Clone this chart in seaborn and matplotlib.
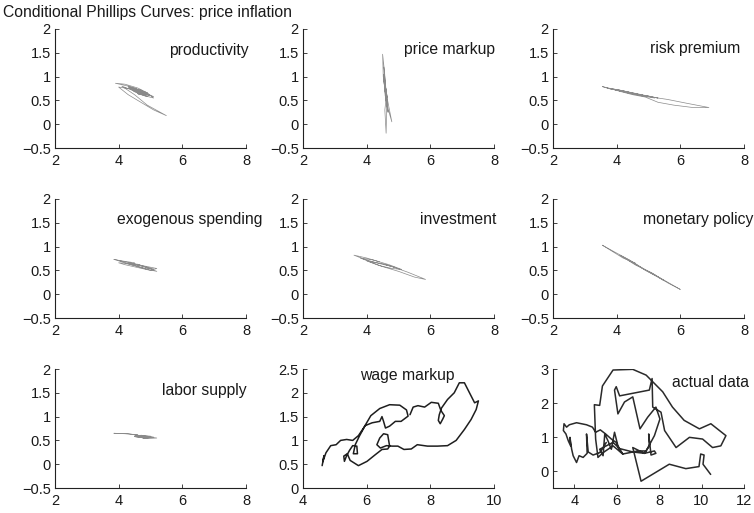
import numpy as np
import pandas as pd
import seaborn as sns
import matplotlib
matplotlib.use("Agg")
import matplotlib.pyplot as plt

sns.set_theme(style="ticks")
plt.rcParams["font.family"] = ["Liberation Sans", "DejaVu Sans"]

title = "Conditional Phillips Curves: price inflation"

# unemployment (x) vs inflation (y)
productivity_x = [4.6, 4.3, 3.9, 4.2, 4.6, 4.9, 5.1, 4.8, 4.4, 4.1, 4.5, 4.9, 5.5, 5.1, 4.7, 4.3,
                  4.0, 4.4, 4.8, 5.0, 4.7, 4.5, 4.6, 4.9, 4.6, 4.3, 4.5, 4.8, 4.7, 4.5, 4.65, 4.9,
                  4.4, 4.8, 5.1, 4.7, 4.3, 4.6, 5.0, 4.5]
productivity_y = [0.72, 0.80, 0.86, 0.84, 0.76, 0.66, 0.55, 0.60, 0.72, 0.80, 0.62, 0.40, 0.18, 0.30,
                  0.46, 0.62, 0.78, 0.74, 0.62, 0.60, 0.68, 0.74, 0.64, 0.58, 0.70, 0.78, 0.68, 0.64,
                  0.72, 0.70, 0.62, 0.66, 0.78, 0.66, 0.58, 0.66, 0.80, 0.72, 0.60, 0.76]

markup_x = [4.58, 4.52, 4.50, 4.56, 4.62, 4.66, 4.60, 4.55, 4.53, 4.60, 4.70, 4.79, 4.68, 4.58,
            4.54, 4.58, 4.63, 4.61, 4.57, 4.62, 4.60, 4.65, 4.56, 4.59, 4.62, 4.58,
            4.55, 4.66, 4.57, 4.64, 4.54, 4.61, 4.67, 4.56, 4.63, 4.58]
markup_y = [0.70, 1.00, 1.47, 1.10, 0.60, 0.30, 0.55, 0.85, 1.05, 0.70, 0.35, 0.05, 0.30, 0.60,
            0.95, 0.80, 0.40, -0.19, 0.30, 0.60, 0.75, 0.55, 0.90, 0.65, 0.45, 0.70,
            1.00, 0.35, 0.85, 0.45, 1.20, 0.50, 0.25, 0.95, 0.40, 0.75]

risk_x = [4.4, 4.0, 3.55, 3.8, 4.3, 4.8, 5.2, 4.9, 4.4, 3.9, 3.7, 4.1, 4.6, 5.1, 5.6, 6.2, 6.9,
          6.4, 5.8, 5.3, 4.9, 4.5, 4.1, 3.8, 4.2, 4.7, 5.1, 4.8, 4.4,
          4.0, 4.5, 5.0, 5.3, 4.8, 4.2, 3.9]
risk_y = [0.66, 0.72, 0.79, 0.74, 0.68, 0.61, 0.55, 0.58, 0.65, 0.73, 0.76, 0.70, 0.64, 0.57,
          0.52, 0.44, 0.35, 0.35, 0.40, 0.46, 0.57, 0.62, 0.69, 0.75, 0.70, 0.62, 0.58, 0.60, 0.65,
          0.73, 0.66, 0.59, 0.55, 0.61, 0.70, 0.74]

exo_x = [4.5, 4.1, 3.85, 4.2, 4.6, 4.9, 5.2, 5.0, 4.6, 4.2, 4.0, 4.4, 4.8, 5.2, 4.9, 4.5, 4.2,
         4.6, 4.9, 4.7, 4.4, 4.3, 4.7, 5.1, 4.8, 4.4, 4.0]
exo_y = [0.66, 0.70, 0.73, 0.68, 0.62, 0.58, 0.54, 0.50, 0.56, 0.62, 0.66, 0.64, 0.58, 0.48,
         0.52, 0.60, 0.65, 0.63, 0.56, 0.60, 0.64, 0.67, 0.60, 0.53, 0.55, 0.62, 0.70]

inv_x = [4.4, 4.0, 3.6, 3.9, 4.3, 4.8, 5.3, 5.85, 5.5, 5.0, 4.5, 4.1, 3.8, 4.2, 4.7, 5.1, 4.8,
         4.4, 4.0, 4.5, 4.9, 4.6]
inv_y = [0.68, 0.76, 0.82, 0.74, 0.66, 0.58, 0.46, 0.31, 0.36, 0.48, 0.58, 0.68, 0.76, 0.72,
         0.62, 0.52, 0.54, 0.60, 0.70, 0.64, 0.56, 0.62]

mon_x = [4.6, 4.2, 3.55, 3.9, 4.4, 4.9, 5.4, 6.0, 5.6, 5.1, 4.6, 4.1, 4.5, 5.0, 5.5, 5.2, 4.8, 4.4]
mon_y = [0.65, 0.76, 1.03, 0.90, 0.72, 0.50, 0.33, 0.10, 0.24, 0.45, 0.61, 0.82, 0.68, 0.47,
         0.28, 0.41, 0.55, 0.70]

labor_x = [4.6, 4.2, 3.85, 4.3, 4.7, 5.0, 5.2, 4.9, 4.5, 4.7, 5.1, 4.8, 4.5, 4.8, 5.0, 4.6,
           4.9, 4.6, 4.8, 5.1, 4.7]
labor_y = [0.62, 0.64, 0.65, 0.64, 0.60, 0.57, 0.55, 0.54, 0.58, 0.56, 0.56, 0.58, 0.61, 0.55,
           0.59, 0.60, 0.57, 0.59, 0.54, 0.57, 0.61]

wage_x = [4.60, 4.66, 4.62, 4.72, 4.87, 5.04, 5.18, 5.37, 5.56, 5.74, 5.92, 6.13, 6.41, 6.72,
          7.04, 7.25, 7.30, 7.08, 6.90, 6.72, 6.59, 6.53, 6.48, 6.41, 6.17, 5.95, 5.77, 5.64,
          5.58, 5.71, 5.69, 5.56, 5.46, 5.37, 5.30, 5.28, 5.39, 5.48, 5.74, 6.01, 6.27, 6.48,
          6.66, 6.72, 6.66, 6.53, 6.41, 6.32, 6.43, 6.62, 6.80, 6.98, 7.17, 7.40, 7.59, 7.91,
          8.22, 8.54, 8.81, 9.07, 9.28, 9.44, 9.51, 9.39, 9.23, 9.07, 8.91, 8.75, 8.54, 8.35,
          8.28, 8.25, 8.31, 8.39, 8.44, 8.33, 8.25, 8.03, 7.82, 7.61, 7.46, 7.36]
wage_y = [0.47, 0.68, 0.55, 0.74, 0.89, 0.91, 1.00, 1.02, 1.00, 1.10, 1.28, 1.52, 1.67, 1.75,
          1.74, 1.64, 1.51, 1.40, 1.40, 1.30, 1.26, 1.40, 1.50, 1.40, 1.37, 1.31, 1.09, 0.91,
          0.72, 0.72, 0.88, 0.89, 0.79, 0.68, 0.56, 0.67, 0.72, 0.58, 0.47, 0.56, 0.70, 0.81,
          0.82, 0.88, 1.12, 1.14, 1.05, 0.91, 0.84, 0.89, 0.88, 0.88, 0.81, 0.82, 0.91, 0.88,
          0.88, 0.89, 1.00, 1.23, 1.44, 1.65, 1.83, 1.79, 2.00, 2.21, 2.21, 2.00, 1.86, 1.68,
          1.54, 1.42, 1.35, 1.45, 1.52, 1.63, 1.78, 1.80, 1.70, 1.73, 1.70, 1.54]

actual_x = [5.51, 5.36, 5.20, 4.89, 4.66, 4.58, 4.61, 4.42, 4.23, 4.11, 3.95, 3.88, 3.80, 3.83,
            3.72, 3.61, 3.49, 3.52, 3.64, 3.77, 4.11, 4.58, 4.86, 5.01, 5.23, 5.48, 5.75, 5.98,
            6.14, 6.29, 5.83, 5.36, 5.12, 5.01, 4.95, 5.20, 5.33, 5.83, 6.76, 7.39, 8.17, 8.63,
            9.18, 9.90, 10.44, 11.15, 10.91, 10.52, 10.05, 9.43, 8.80, 8.26, 8.09, 7.70, 7.67,
            7.54, 6.14, 5.98, 5.90, 6.06, 6.37, 6.76, 7.10, 7.46, 7.85, 8.04, 7.78, 7.39, 7.00,
            6.61, 6.29, 6.06, 5.90, 5.75, 5.59, 5.44, 5.36, 5.20, 5.51, 5.83, 6.14, 6.76, 7.31,
            7.54, 7.51, 7.62, 7.85, 7.78, 7.31, 6.76, 7.15, 8.48, 9.26, 9.88, 9.96, 10.12, 10.07,
            10.43]
actual_y = [0.84, 0.69, 0.54, 0.47, 0.56, 1.09, 0.52, 0.40, 0.45, 0.25, 0.45, 0.64, 0.99, 0.74,
            0.89, 1.09, 1.19, 1.39, 1.29, 1.36, 1.42, 1.36, 1.29, 1.14, 1.21, 1.09, 0.94, 0.84,
            0.59, 0.50, 0.74, 0.54, 0.40, 0.94, 1.95, 1.93, 2.50, 2.97, 2.99, 2.82, 2.33, 1.88,
            1.49, 1.24, 1.39, 1.04, 0.74, 0.69, 0.94, 0.99, 0.69, 1.19, 1.73, 1.88, 2.72, 2.38,
            2.21, 2.48, 2.38, 1.68, 2.03, 2.18, 1.24, 1.58, 1.88, 1.53, 1.04, 0.59, 0.59, 0.54,
            0.50, 0.74, 1.14, 0.64, 0.89, 1.09, 0.45, 0.64, 0.74, 0.84, 0.66, 0.56, 0.52, 0.74,
            1.09, 0.47, 0.52, 0.59, 0.52, 0.69, -0.30, 0.20, 0.07, 0.13, 0.50, 0.47, 0.20, -0.10]

labels = ["productivity", "price markup", "risk premium", "exogenous spending", "investment",
          "monetary policy", "labor supply", "wage markup", "actual data"]
series = [(productivity_x, productivity_y), (markup_x, markup_y), (risk_x, risk_y),
          (exo_x, exo_y), (inv_x, inv_y), (mon_x, mon_y), (labor_x, labor_y),
          (wage_x, wage_y), (actual_x, actual_y)]

small_xticks = [2, 4, 6, 8]
small_yticks = [-0.5, 0, 0.5, 1, 1.5, 2]
small_yticklabels = ["\u22120.5", "0", "0.5", "1", "1.5", "2"]
wage_xticks = [4, 6, 8, 10]
wage_yticks = [0, 0.5, 1, 1.5, 2, 2.5]
wage_yticklabels = ["0", "0.5", "1", "1.5", "2", "2.5"]
actual_xticks = [4, 6, 8, 10, 12]
actual_yticks = [0, 1, 2, 3]

fig = plt.figure(figsize=(7.54, 5.13), dpi=100)
fig.patch.set_facecolor("white")

lefts = [0.0729, 0.4019, 0.7334]
bottoms = [0.7115, 0.3801, 0.0487]
w, h = 0.2533, 0.232
label_pos = [(0.596, 0.78), (0.531, 0.79), (0.51, 0.795), (0.325, 0.79), (0.613, 0.79),
             (0.47, 0.79), (0.56, 0.78), (0.30, 0.91), (0.625, 0.85)]

for i, (name, (xs, ys)) in enumerate(zip(labels, series)):
    r, c = divmod(i, 3)
    ax = fig.add_axes([lefts[c], bottoms[r], w, h])
    df = pd.DataFrame({"u": xs, "pi": ys})
    if i < 7:
        sns.lineplot(data=df, x="u", y="pi", sort=False, estimator=None, ax=ax,
                     color="0.35", linewidth=0.5, alpha=0.7)
        ax.set_xlim(2, 8)
        ax.set_ylim(-0.5, 2)
        ax.set_xticks(small_xticks)
        ax.set_xticklabels([str(t) for t in small_xticks])
        ax.set_yticks(small_yticks)
        ax.set_yticklabels(small_yticklabels)
    elif i == 7:
        sns.lineplot(data=df, x="u", y="pi", sort=False, estimator=None, ax=ax,
                     color="#1e1e1e", linewidth=1.1)
        ax.set_xlim(4, 10)
        ax.set_ylim(0, 2.5)
        ax.set_xticks(wage_xticks)
        ax.set_xticklabels([str(t) for t in wage_xticks])
        ax.set_yticks(wage_yticks)
        ax.set_yticklabels(wage_yticklabels)
    else:
        sns.lineplot(data=df, x="u", y="pi", sort=False, estimator=None, ax=ax,
                     color="#2a2a2a", linewidth=1.1)
        ax.set_xlim(3, 12)
        ax.set_ylim(-0.5, 3)
        ax.set_xticks(actual_xticks)
        ax.set_xticklabels([str(t) for t in actual_xticks])
        ax.set_yticks(actual_yticks)
        ax.set_yticklabels([str(t) for t in actual_yticks])
    ax.set_xlabel("")
    ax.set_ylabel("")
    sns.despine(ax=ax)
    for s in ["left", "bottom"]:
        ax.spines[s].set_linewidth(0.8)
        ax.spines[s].set_color("#222222")
    ax.tick_params(direction="in", length=3, width=0.6, colors="#222222",
                   labelsize=10.5, labelcolor="#1a1a1a")
    ax.tick_params(axis="y", pad=3)
    ax.tick_params(axis="x", pad=4)
    ax.set_facecolor("white")
    tx, ty = label_pos[i]
    ax.text(tx, ty, name, transform=ax.transAxes, fontsize=11.3, color="#1a1a1a",
            ha="left", va="baseline", clip_on=False)

fig.text(0.004, 1 - 17 / 513, title, fontsize=11.3, color="#1a1a1a", ha="left", va="baseline")

fig.savefig("out.png", dpi=100)
